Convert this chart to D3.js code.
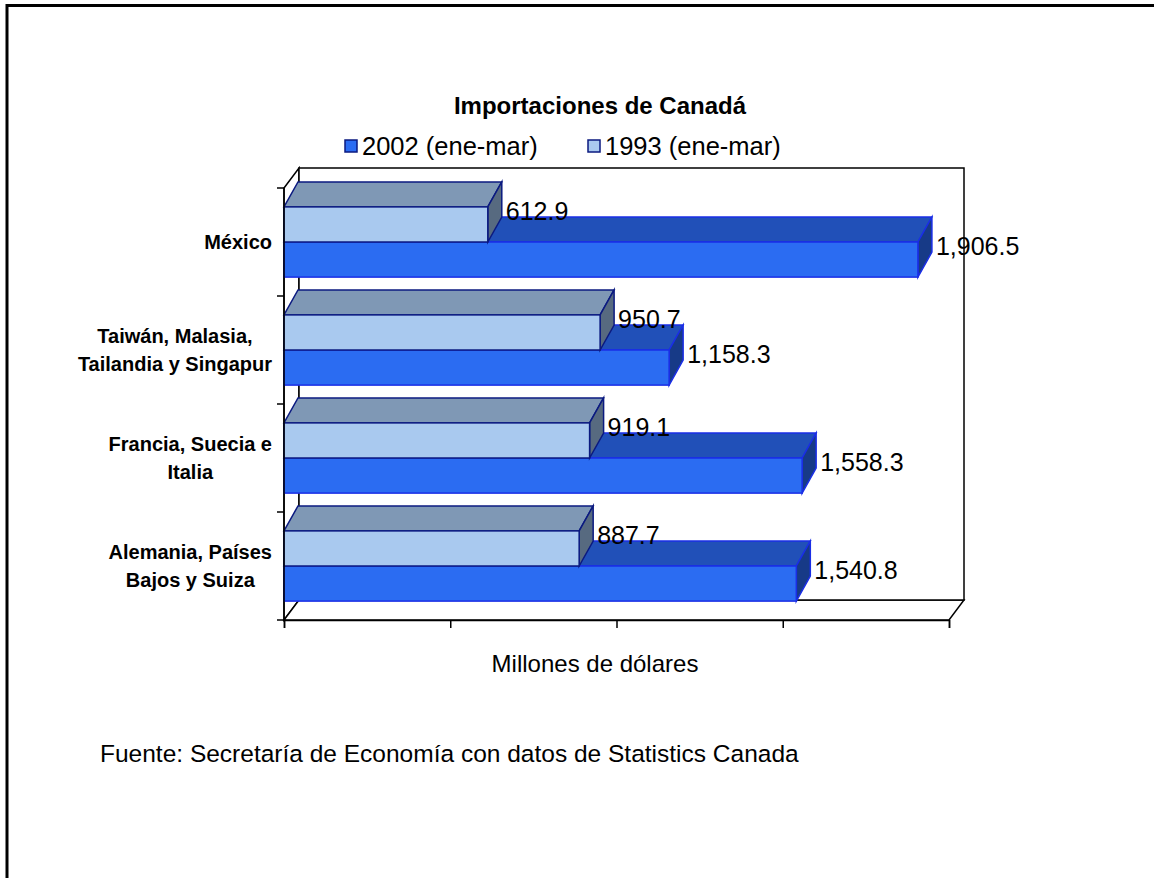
<!DOCTYPE html>
<html>
<head>
<meta charset="utf-8">
<script src="https://cdn.jsdelivr.net/npm/d3@7"></script>
<style>
  html, body { margin: 0; padding: 0; background: #fff; }
  svg text { font-family: "Liberation Sans", Arial, sans-serif; }
</style>
</head>
<body>
<svg id="chart" width="1154" height="878"></svg>
<script>
// data
const categories = ["México", "Taiwán, Malasia, Tailandia y Singapur", "Francia, Suecia e Italia", "Alemania, Países Bajos y Suiza"];
const categoryLines = [["México"], ["Taiwán, Malasia,", "Tailandia y Singapur"], ["Francia, Suecia e", "Italia"], ["Alemania, Países", "Bajos y Suiza"]];
const seriesNames = ["2002 (ene-mar)", "1993 (ene-mar)"];
const values2002 = [1906.5, 1158.3, 1558.3, 1540.8];
const values1993 = [612.9, 950.7, 919.1, 887.7];
const xTicks = [0, 500, 1000, 1500, 2000];

const svg = d3.select("#chart");

// outer frame
svg.append("rect")
  .attr("x", 7).attr("y", 5.5)
  .attr("width", 1300).attr("height", 1000)
  .attr("fill", "none").attr("stroke", "#000").attr("stroke-width", 3);

// plot geometry (front plane)
const plotLeft = 284, plotRight = 949, plotTop = 188, plotBottom = 620;
const wallDx = 15, wallDy = -20;   // depth of walls
const barDx = 14, barDy = -25;     // depth of bars

const x = d3.scaleLinear().domain([0, 2000]).range([plotLeft, plotRight]);
const y = d3.scaleBand().domain(categories).range([plotTop, plotBottom])
  .paddingInner(0.35).paddingOuter(0.175);
// 1993 sits on top of 2002 inside each group
const ySub = d3.scaleBand().domain(["1993", "2002"]).range([0, y.bandwidth()]);

const colors = {
  "2002": { front: "#2b6cf2", top: "#2150b8", side: "#173a87", stroke: "#1a2ee6" },
  "1993": { front: "#a9c9ef", top: "#7f98b5", side: "#576a80", stroke: "#0b1a80" }
};

// walls: left side, floor, back
const wall = svg.append("g").attr("fill", "#fff").attr("stroke", "#000").attr("stroke-width", 1.5);
wall.append("polygon").attr("points", [
  [plotLeft, plotTop], [plotLeft + wallDx, plotTop + wallDy], [plotLeft + wallDx, plotBottom + wallDy], [plotLeft, plotBottom]
].join(" "));
wall.append("polygon").attr("points", [
  [plotLeft, plotBottom], [plotLeft + wallDx, plotBottom + wallDy], [plotRight + wallDx, plotBottom + wallDy], [plotRight, plotBottom]
].join(" "));
wall.append("rect")
  .attr("x", plotLeft + wallDx).attr("y", plotTop + wallDy)
  .attr("width", plotRight - plotLeft).attr("height", plotBottom - plotTop);

// bars
const rows = categories.map((c, i) => ({ cat: c, i: i, v2002: values2002[i], v1993: values1993[i] }));
const fmt = d3.format(",.1f");

function drawBar(g, key, v, y0, h) {
  const c = colors[key];
  const x0 = x(0), x1 = x(v), y1 = y0 + h;
  g.append("polygon")
    .attr("points", [[x0, y0], [x0 + barDx, y0 + barDy], [x1 + barDx, y0 + barDy], [x1, y0]].join(" "))
    .attr("fill", c.top).attr("stroke", c.stroke).attr("stroke-width", 1.5);
  g.append("polygon")
    .attr("points", [[x1, y0], [x1 + barDx, y0 + barDy], [x1 + barDx, y1 + barDy], [x1, y1]].join(" "))
    .attr("fill", c.side).attr("stroke", c.stroke).attr("stroke-width", 1.5);
  g.append("rect")
    .attr("x", x0).attr("y", y0).attr("width", x1 - x0).attr("height", h)
    .attr("fill", c.front).attr("stroke", c.stroke).attr("stroke-width", 1.5);
}

const barG = svg.append("g");
rows.forEach(d => {
  const g = barG.append("g");
  drawBar(g, "2002", d.v2002, y(d.cat) + ySub("2002"), ySub.bandwidth());
  drawBar(g, "1993", d.v1993, y(d.cat) + ySub("1993"), ySub.bandwidth());
});

// value labels, centred on the side face of each bar
const labelG = svg.append("g").attr("font-size", 25).attr("fill", "#000");
rows.forEach(d => {
  [["1993", d.v1993], ["2002", d.v2002]].forEach(([key, v]) => {
    const y0 = y(d.cat) + ySub(key);
    labelG.append("text")
      .attr("x", x(v) + 18)
      .attr("y", y0 + (ySub.bandwidth() + barDy) / 2 - 1)
      .attr("dy", "0.35em")
      .text(fmt(v));
  });
});

// category axis: line along the front left edge, ticks on band boundaries
svg.append("line")
  .attr("x1", plotLeft).attr("x2", plotLeft).attr("y1", plotTop).attr("y2", plotBottom)
  .attr("stroke", "#000").attr("stroke-width", 1.5);
svg.append("g").selectAll("line")
  .data(d3.range(categories.length + 1))
  .join("line")
  .attr("x1", plotLeft - 7).attr("x2", plotLeft)
  .attr("y1", i => plotTop + i * y.step()).attr("y2", i => plotTop + i * y.step())
  .attr("stroke", "#000").attr("stroke-width", 1.5);

// value axis: ticks only, no labels
const xAxis = svg.append("g")
  .attr("transform", `translate(0,${plotBottom})`)
  .call(d3.axisBottom(x).tickValues(xTicks).tickFormat("").tickSizeOuter(0).tickSize(8));
xAxis.select(".domain").attr("stroke-width", 1.5);
xAxis.selectAll(".tick line").attr("stroke-width", 1.5);

// category labels: block right-aligned, lines centred inside the block
const catG = svg.append("g").attr("font-size", 20).attr("font-weight", "bold").attr("fill", "#000");
rows.forEach(d => {
  const lines = categoryLines[d.i];
  const block = catG.append("g");
  const cy = y(d.cat) + y.bandwidth() / 2;
  const lh = 28;
  const texts = lines.map((t, k) => block.append("text")
    .attr("y", cy + (k - (lines.length - 1) / 2) * lh)
    .attr("dy", "0.35em")
    .attr("text-anchor", "middle")
    .text(t));
  const w = d3.max(texts, t => t.node().getComputedTextLength());
  texts.forEach(t => t.attr("x", 272 - w / 2));
});

// title
svg.append("text")
  .attr("x", 600).attr("y", 114)
  .attr("text-anchor", "middle")
  .attr("font-size", 24).attr("font-weight", "bold")
  .text("Importaciones de Canadá");

// legend
const legendX = [345, 588];
const legend = svg.append("g");
seriesNames.forEach((name, i) => {
  const key = i === 0 ? "2002" : "1993";
  legend.append("rect")
    .attr("x", legendX[i]).attr("y", 140).attr("width", 12).attr("height", 12)
    .attr("fill", colors[key].front).attr("stroke", "#0b1a80").attr("stroke-width", 1.5);
  legend.append("text")
    .attr("x", legendX[i] + 17).attr("y", 146).attr("dy", "0.35em")
    .attr("font-size", 25.5)
    .text(name);
});

// axis title and source
svg.append("text")
  .attr("x", 595).attr("y", 672)
  .attr("text-anchor", "middle").attr("font-size", 24)
  .text("Millones de dólares");

svg.append("text")
  .attr("x", 100).attr("y", 762)
  .attr("font-size", 24.5)
  .text("Fuente: Secretaría de Economía con datos de Statistics Canada");
</script>
</body>
</html>
